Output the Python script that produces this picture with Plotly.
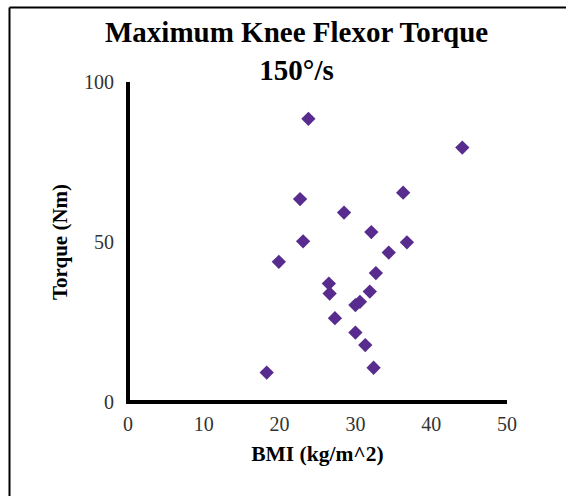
import plotly.graph_objects as go

bmi = [23.8, 44.1, 22.7, 36.3, 28.5, 32.1, 23.1, 36.8, 19.9, 34.4, 32.7,
       26.5, 26.6, 31.9, 30.6, 30.0, 27.3, 30.0, 31.3, 32.4, 18.3]
torque = [88.5, 79.5, 63.4, 65.4, 59.2, 53.1, 50.2, 49.9, 43.8, 46.7, 40.3,
          37.0, 33.9, 34.5, 31.3, 30.3, 26.2, 21.7, 17.8, 10.7, 9.2]

x_ticks = [0, 10, 20, 30, 40, 50]
y_ticks = [0, 50, 100]

FONT = "Liberation Serif, Times New Roman, serif"

W, H = 566, 496
L, R, T, B = 128, 59, 82, 94
PW, PH = W - L - R, H - T - B


def px_x(px):
    return (px - L) / PW


def px_y(py):
    return (H - B - py) / PH


fig = go.Figure(go.Scatter(
    x=bmi, y=torque, mode="markers",
    marker=dict(symbol="diamond", size=11, color="#582C8E", line=dict(width=0)),
    hoverinfo="x+y", showlegend=False,
))

fig.update_layout(
    width=W, height=H,
    margin=dict(l=L, r=R, t=T, b=B, pad=0, autoexpand=False),
    paper_bgcolor="white", plot_bgcolor="white",
    font=dict(family=FONT, color="#000"),
    xaxis=dict(
        range=[0, 50], tickvals=x_ticks, showgrid=False, zeroline=False,
        showline=False, ticks="", automargin=False,
        tickfont=dict(size=20, color="#333", family=FONT),
        ticklabelstandoff=8,
        title=dict(text="<b>BMI (kg/m^2)</b>", font=dict(size=21.5, family=FONT, color="#000"), standoff=11),
    ),
    yaxis=dict(
        range=[0, 100], tickvals=y_ticks, showgrid=False, zeroline=False,
        showline=False, ticks="", automargin=False,
        tickfont=dict(size=20, color="#333", family=FONT),
        ticklabelstandoff=13,
        title=dict(text="<b>Torque (Nm)</b>", font=dict(size=21, family=FONT, color="#000"), standoff=10),
    ),
    annotations=[
        dict(text="<b>Maximum Knee Flexor Torque<br>150°/s</b>", xref="paper", yref="paper",
             x=px_x(296), y=px_y(14), xanchor="center", yanchor="top", showarrow=False,
             font=dict(size=29, family=FONT, color="#000")),
    ],
    shapes=[
        # axis lines, centred on the zero values
        dict(type="line", xref="paper", yref="paper", x0=0, x1=0, y0=-0.006, y1=1,
             line=dict(color="#000", width=4), layer="above"),
        dict(type="line", xref="paper", yref="paper", x0=0, x1=1, y0=0, y1=0,
             line=dict(color="#000", width=4), layer="above"),
        # outer frame
        dict(type="line", xref="paper", yref="paper", x0=px_x(9.5), x1=px_x(9.5), y0=px_y(510), y1=px_y(7.5),
             line=dict(color="#000", width=2)),
        dict(type="line", xref="paper", yref="paper", x0=px_x(9.5), x1=px_x(580), y0=px_y(7.5), y1=px_y(7.5),
             line=dict(color="#000", width=2)),
    ],
)

fig.write_html("out.html", config={"displayModeBar": False},
               post_script="document.body.style.margin='0px';")
